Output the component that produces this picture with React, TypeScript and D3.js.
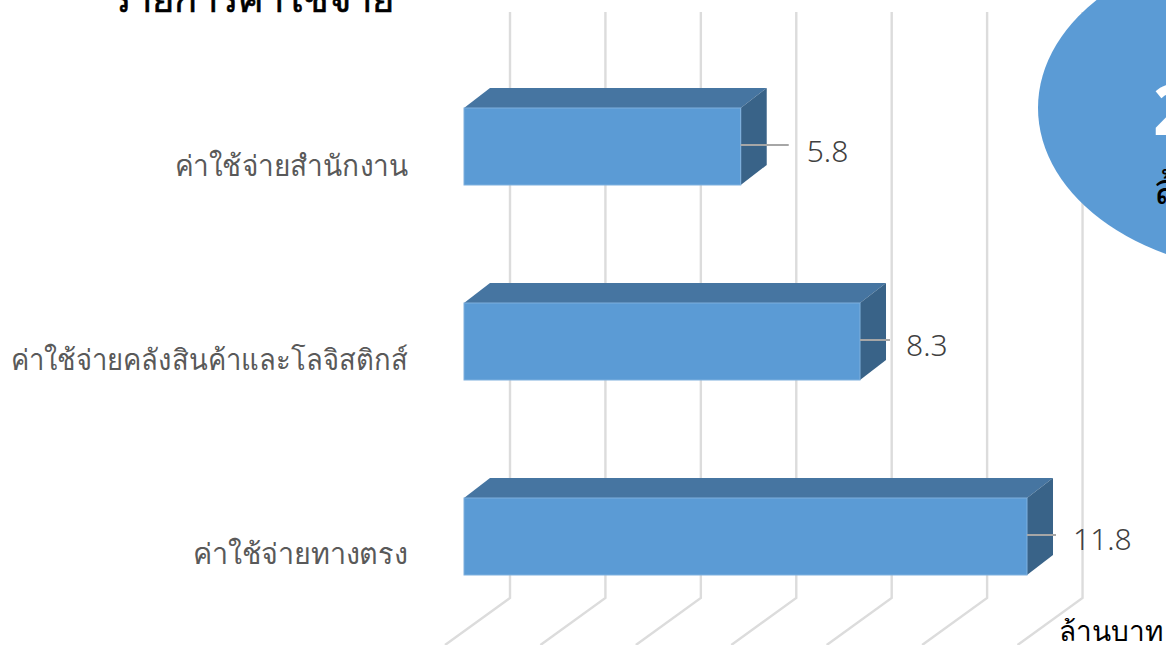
import React from "react";
import * as d3 from "d3";

const categories = ["ค่าใช้จ่ายสำนักงาน", "ค่าใช้จ่ายคลังสินค้าและโลจิสติกส์", "ค่าใช้จ่ายทางตรง"];
const values = [5.8, 8.3, 11.8];
const gridTicks = [0, 2, 4, 6, 8, 10, 12];
const unitLabel = "ล้านบาท";
const titleText = "รายการค่าใช้จ่าย";
const totalText = "25.9";

const FONT = "'Noto Sans', 'Open Sans', sans-serif";
const W = 1166, H = 645;
const x = d3.scaleLinear().domain([0, 11.8]).range([464, 1027]);
const BAR_H = 77, STEP = 195;
const yTop = (i: number) => 108 + i * STEP;
const DX = 26, DY = 20;
const gridX = (v: number) => x(v) + 46;
const leaderLen = [48, 30, 29];
const labelGap = [18, 16, 17];
const labelWidths = [233, 397, 215];

export default function App() {
  return (
    <svg width={W} height={H} viewBox={`0 0 ${W} ${H}`} style={{ position: "absolute", left: 0, top: 0, background: "#fff" }} fontFamily={FONT}>
      {gridTicks.map((t) => (
        <g key={t} stroke="#dcdcdc" strokeWidth={2.4} fill="none">
          <path d={`M${gridX(t)},12 V598 L${gridX(t) - 65},645`} />
        </g>
      ))}
      {values.map((v, i) => {
        const x0 = x(0), x1 = x(v), t = yTop(i), b = t + BAR_H;
        return (
          <g key={categories[i]}>
            <path d={`M${x0},${t} L${x0 + DX},${t - DY} H${x1 + DX} L${x1},${t} Z`} fill="#4675a1" />
            <path d={`M${x1},${t} L${x1 + DX},${t - DY} V${b - DY} L${x1},${b} Z`} fill="#396388" />
            <rect x={x0} y={t} width={x1 - x0} height={BAR_H} fill="#5b9bd5" stroke="#7fb0de" strokeWidth={1} />
            <line x1={x1} x2={x1 + leaderLen[i]} y1={t + 37} y2={t + 37} stroke="#a6a6a6" strokeWidth={2} />
            <text x={x1 + leaderLen[i] + labelGap[i]} y={t + 54 - i} fontSize={30} fontWeight={300} fill="#404040">{v.toFixed(1)}</text>
            <text x={408 - labelWidths[i]} y={t + 68 - i} textLength={labelWidths[i]} lengthAdjust="spacingAndGlyphs" fontSize={29} fontWeight={300} fill="#595959">{categories[i]}</text>
          </g>
        );
      })}
      <text x={111} y={12} fontSize={38} fontWeight={500} fill="#000" stroke="#000" strokeWidth={0.6}>{titleText}</text>
      <ellipse cx={1278} cy={108} rx={240} ry={165} fill="#5b9bd5" />
      <text x={1153} y={135} fontSize={70} fontWeight={700} fill="#fff">{totalText}</text>
      <text x={1153} y={204} fontSize={42} fontWeight={300} fill="#000">{unitLabel}</text>
      <text x={1059} y={641} fontSize={28} fontWeight={300} fill="#000">{unitLabel}</text>
    </svg>
  );
}
